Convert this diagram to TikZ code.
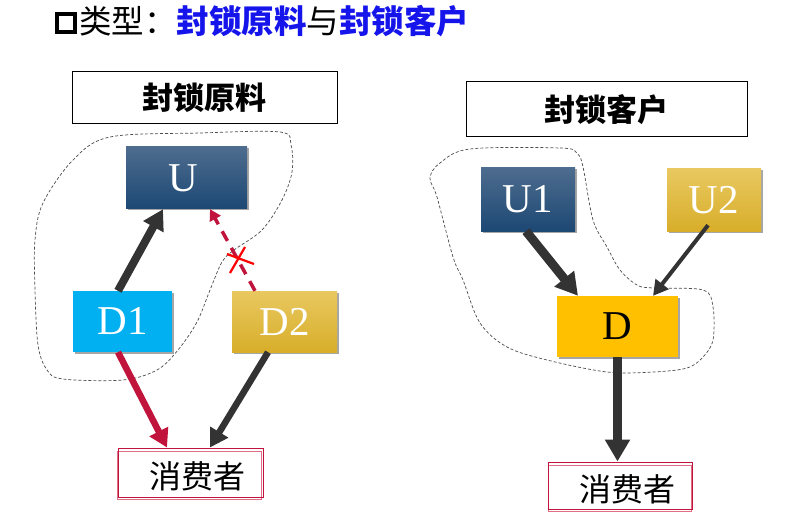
\documentclass[tikz,border=0pt]{standalone}
\usepackage{fontspec}
\setmainfont{Liberation Serif}
\newfontfamily\cjk{Noto Sans CJK SC}
\usetikzlibrary{arrows.meta,shadows}
\definecolor{crim}{RGB}{192,20,60}
\definecolor{crimlt}{RGB}{225,110,135}
\definecolor{dkarrow}{RGB}{51,51,51}
\definecolor{ttlblue}{RGB}{20,20,235}
\definecolor{navytop}{RGB}{78,108,142}
\definecolor{navybot}{RGB}{28,72,116}
\definecolor{goldtop}{RGB}{232,200,96}
\definecolor{goldmid}{RGB}{236,196,62}
\definecolor{goldbot}{RGB}{216,174,42}
\definecolor{cyanbox}{RGB}{0,176,240}
\definecolor{orangebox}{RGB}{255,192,0}
\tikzset{
  sq/.style={inner sep=0pt, font=\fontsize{41}{41}\selectfont},
  shd/.style={drop shadow={shadow xshift=1.5pt, shadow yshift=-1.5pt, opacity=0.35, fill=black}},
  navybox/.style={sq, shd, top color=navytop, bottom color=navybot, text=white},
  goldbox/.style={sq, shd, top color=goldtop, middle color=goldmid, bottom color=goldbot, text=white},
  headbox/.style={draw=black, line width=1pt, inner sep=0pt, font=\cjk\bfseries\fontsize{31}{31}\selectfont},
  consbox/.style={draw=crim, line width=1pt, inner sep=0pt},
  bigarrow/.style={draw=dkarrow, line width=9pt, -{Triangle[length=22pt,width=24pt]}},
  midarrow/.style={draw=dkarrow, line width=6.5pt, -{Triangle[length=18pt,width=20pt]}},
  redarrow/.style={draw=crim, line width=6.5pt, -{Triangle[length=18pt,width=20pt]}},
  thinarrow/.style={draw=dkarrow, line width=4pt, -{Triangle[length=15pt,width=16pt]}},
  dasharrow/.style={draw=crim, line width=3.5pt, dash pattern=on 11pt off 8pt, -{Triangle[length=11pt,width=12pt]}},
  blob/.style={draw=black!70, line width=0.7pt, dash pattern=on 3pt off 2pt},
  xmark/.style={draw=red, line width=2.2pt},
}
\begin{document}
\begin{tikzpicture}[x=1pt,y=-1pt]
\useasboundingbox[fill=white] (0,0) rectangle (810,529);

% title
\node[draw=black, line width=4pt, minimum size=18pt, inner sep=0pt] (tsq) at (66,23) {};
\node[anchor=west, inner sep=0pt, font=\cjk\fontsize{32.5}{32.5}\selectfont] (title) at (79,21)
  {类型：{\bfseries\color{ttlblue}封锁原料}与{\bfseries\color{ttlblue}封锁客户}};

% blobs
\draw[blob] plot[smooth cycle, tension=0.55] coordinates {
  (110,137) (200,133) (280,132) (291,145) (292,172) (282,200) (262,230)
  (234,250) (222,262) (210,290) (197,322) (178,350) (157,370) (123,380)
  (63,379) (47,370) (38,345) (35,290) (35,240) (43,203) (73,160)};
\draw[blob] plot[smooth cycle, tension=0.55] coordinates {
  (470,149) (560,148) (577,153) (583,167) (593,220) (607,247) (620,270)
  (637,285) (653,288) (703,290) (713,307) (713,340) (703,357) (687,368)
  (653,372) (607,372) (547,360) (507,347) (480,323) (463,280) (453,257)
  (437,197) (430,178) (440,163)};

% left diagram
\node[headbox, minimum width=265pt, minimum height=52pt] (h1) at (204.5,98) {封锁原料};
\node[navybox, minimum width=121pt, minimum height=62pt] (u) at (186.5,178) {\hspace*{-6pt}U};
\node[sq, shd, fill=cyanbox, text=white, minimum width=99pt, minimum height=61pt] (d1) at (122.5,321.5) {D1};
\node[goldbox, minimum width=105pt, minimum height=61pt] (d2) at (284.5,321.5) {D2};
\draw[consbox, draw=crimlt] (117,451) rectangle (261,499);
\node[consbox, minimum width=145pt, minimum height=49pt] (c1) at (190.5,472.5) {};
\node[inner sep=0pt, font=\cjk\fontsize{32}{32}\selectfont] (c1t) at (197,476) {消费者};

\draw[bigarrow, line width=8pt, -{Triangle[length=20pt,width=22pt]}] ([xshift=-4.5pt]d1.north) -- ([xshift=-23.5pt]u.south);
\draw[dasharrow] ([xshift=-29.5pt]d2.north) -- ([xshift=23.5pt]u.south);
\coordinate (xc) at (238,259);
\draw[xmark] ([xshift=-11pt,yshift=5pt]xc) -- ([xshift=16pt,yshift=-5pt]xc);
\draw[xmark] ([xshift=-8pt,yshift=-14pt]xc) -- ([xshift=7pt,yshift=12pt]xc);
\draw[redarrow] ([xshift=-4.5pt]d1.south) -- ([xshift=-23.5pt]c1.north);
\draw[midarrow] ([xshift=-16.5pt]d2.south) -- ([xshift=19.5pt]c1.north);

% right diagram
\node[headbox, minimum width=281pt, minimum height=55pt] (h2) at (606.5,109.5) {封锁客户};
\node[navybox, minimum width=94pt, minimum height=63pt] (u1) at (528,199.5) {U1};
\node[goldbox, minimum width=94pt, minimum height=62pt] (u2) at (714,200) {U2};
\node[sq, shd, fill=orangebox, text=black, minimum width=121pt, minimum height=61pt] (d) at (617.5,326.5) {D};
\draw[consbox, draw=crimlt] (548,465) rectangle (691,511);
\node[consbox, minimum width=144pt, minimum height=47pt] (c2) at (620,485.5) {};
\node[inner sep=0pt, font=\cjk\fontsize{32}{32}\selectfont] (c2t) at (627,489) {消费者};

\draw[bigarrow] ([xshift=-2pt]u1.south) -- ([xshift=-39.5pt]d.north);
\draw[thinarrow] ([xshift=-6pt,yshift=6pt]u2.south) -- ([xshift=35.5pt]d.north);
\draw[bigarrow] (d.south) -- (d.south |- c2.north);
\end{tikzpicture}
\end{document}
